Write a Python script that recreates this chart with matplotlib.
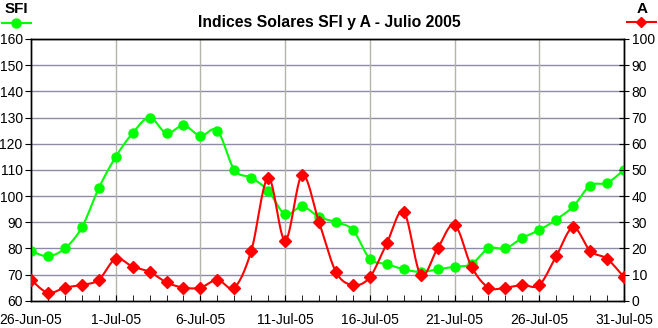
import numpy as np
import matplotlib
matplotlib.use("Agg")
import matplotlib.pyplot as plt
from matplotlib.lines import Line2D

plt.rcParams['font.family'] = ['Liberation Sans', 'DejaVu Sans']

dates = ["26-Jun-05", "27-Jun-05", "28-Jun-05", "29-Jun-05", "30-Jun-05",
         "1-Jul-05", "2-Jul-05", "3-Jul-05", "4-Jul-05", "5-Jul-05",
         "6-Jul-05", "7-Jul-05", "8-Jul-05", "9-Jul-05", "10-Jul-05",
         "11-Jul-05", "12-Jul-05", "13-Jul-05", "14-Jul-05", "15-Jul-05",
         "16-Jul-05", "17-Jul-05", "18-Jul-05", "19-Jul-05", "20-Jul-05",
         "21-Jul-05", "22-Jul-05", "23-Jul-05", "24-Jul-05", "25-Jul-05",
         "26-Jul-05", "27-Jul-05", "28-Jul-05", "29-Jul-05", "30-Jul-05",
         "31-Jul-05"]
sfi = [79, 77, 80, 88, 103, 115, 124, 130, 124, 127, 123, 125, 110, 107, 102,
       93, 96, 92, 90, 87, 76, 74, 72, 71, 72, 73, 74, 80, 80, 84, 87, 91, 96,
       104, 105, 110]
a_idx = [8, 3, 5, 6, 8, 16, 13, 11, 7, 5, 5, 8, 5, 19, 47, 23, 48, 30, 11, 6,
         9, 22, 34, 10, 20, 29, 13, 5, 5, 6, 6, 17, 28, 19, 16, 9]


def smooth(y, n=20):
    # Catmull-Rom style curve through the points (like Excel smoothed lines)
    y = np.asarray(y, float)
    x = np.arange(len(y), dtype=float)
    xp = np.concatenate([[x[0]], x, [x[-1]]])
    yp = np.concatenate([[y[0]], y, [y[-1]]])
    xs, ys = [], []
    t = np.linspace(0, 1, n, endpoint=False)
    for i in range(1, len(xp) - 2):
        p0, p1, p2, p3 = [np.array([xp[j], yp[j]]) for j in (i - 1, i, i + 1, i + 2)]
        c1 = p1 + (p2 - p0) / 6
        c2 = p2 - (p3 - p1) / 6
        for tt in t:
            b = ((1 - tt) ** 3) * p1 + 3 * ((1 - tt) ** 2) * tt * c1 + \
                3 * (1 - tt) * tt ** 2 * c2 + tt ** 3 * p2
            xs.append(b[0])
            ys.append(b[1])
    xs.append(x[-1])
    ys.append(y[-1])
    return np.array(xs), np.array(ys)


green = "#00ff00"
red = "#ff0000"

fig = plt.figure(figsize=(6.58, 3.28), dpi=100)
ax = fig.add_axes([31 / 658, 1 - 300.7 / 328, (624 - 31) / 658, (300.7 - 39) / 328])
ax2 = ax.twinx()

x = np.arange(len(dates))
ax.set_xlim(0, len(dates) - 1)
ax.set_ylim(60, 160)
ax2.set_ylim(0, 100)

ax.set_yticks(range(60, 161, 10))
ax2.set_yticks(range(0, 101, 10))
ax.set_xticks(x[::5])
ax.set_xticklabels(dates[::5])
ax.set_xticks(x, minor=True)

for v in range(70, 161, 10):
    ax.axhline(v, color="#8c8ca8", lw=1, zorder=0)
for v in x[5::5]:
    ax.axvline(v, color="#b4b4aa", lw=1, zorder=0)

sx, sy = smooth(sfi)
ax.plot(sx, sy, color=green, lw=1.5, zorder=3)
ax.plot(x, sfi, "o", color=green, ms=6.5, zorder=4)

rx, ry = smooth(a_idx)
ax2.plot(rx, ry, color=red, lw=1.5, zorder=3)
ax2.plot(x, a_idx, "D", color=red, ms=6, zorder=4)

for a in (ax, ax2):
    for s in a.spines.values():
        s.set_color("black")
        s.set_linewidth(1)
ax.tick_params(axis="y", direction="out", length=4, labelsize=10, pad=2)
ax2.tick_params(axis="y", direction="inout", length=7, labelsize=10, pad=2)
ax.tick_params(axis="x", which="major", direction="in", length=4, labelsize=10, pad=9)
ax.tick_params(axis="x", which="minor", direction="in", length=4)

fig.text(329 / 658, 1 - 22 / 328, "Indices Solares SFI y A - Julio 2005",
         ha="center", va="center", fontsize=11.3, fontweight="bold")
fig.text(16 / 658, 1 - 9 / 328, "SFI", ha="center", va="center",
         fontsize=11, fontweight="bold")
fig.text(642 / 658, 1 - 9 / 328, "A", ha="center", va="center",
         fontsize=11, fontweight="bold")

fig.add_artist(Line2D([2 / 658, 31 / 658], [1 - 23 / 328] * 2, color=green, lw=1.5))
fig.add_artist(Line2D([16 / 658], [1 - 23 / 328], marker="o", color=green, ms=6.5))
fig.add_artist(Line2D([627 / 658, 656 / 658], [1 - 22 / 328] * 2, color=red, lw=1.5))
fig.add_artist(Line2D([641 / 658], [1 - 22 / 328], marker="D", color=red, ms=5))

fig.savefig("out.png", dpi=100)
